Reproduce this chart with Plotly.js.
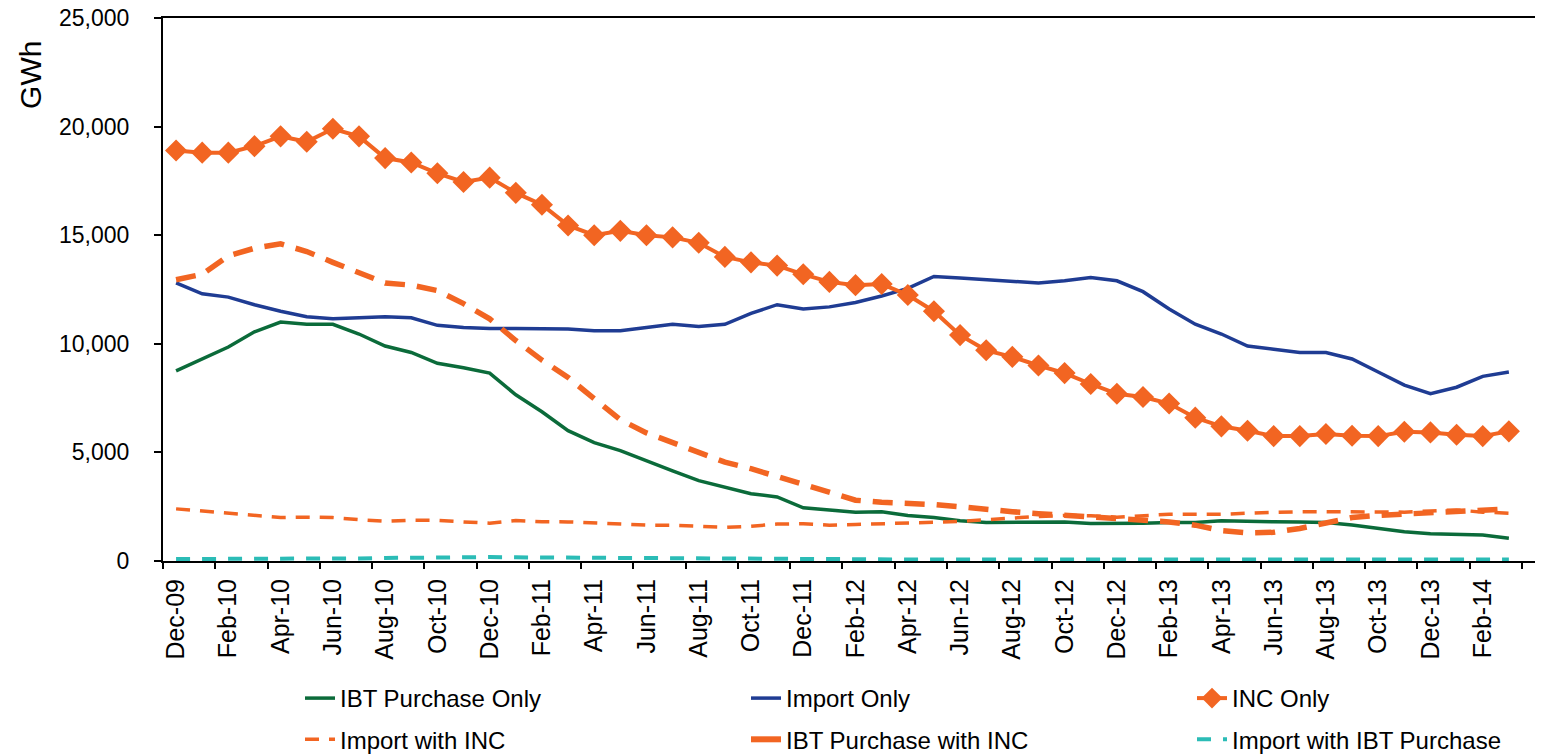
<!DOCTYPE html>
<html>
<head>
<meta charset="utf-8">
<script src="https://cdn.plot.ly/plotly-3.0.1.min.js"></script>
<style>html,body{margin:0;padding:0;background:#fff;}#chart{width:1550px;height:756px;}</style>
</head>
<body>
<div id="chart"></div>
<script>
const months = ["Dec-09","Jan-10","Feb-10","Mar-10","Apr-10","May-10","Jun-10","Jul-10","Aug-10","Sep-10","Oct-10","Nov-10",
"Dec-10","Jan-11","Feb-11","Mar-11","Apr-11","May-11","Jun-11","Jul-11","Aug-11","Sep-11","Oct-11","Nov-11",
"Dec-11","Jan-12","Feb-12","Mar-12","Apr-12","May-12","Jun-12","Jul-12","Aug-12","Sep-12","Oct-12","Nov-12",
"Dec-12","Jan-13","Feb-13","Mar-13","Apr-13","May-13","Jun-13","Jul-13","Aug-13","Sep-13","Oct-13","Nov-13",
"Dec-13","Jan-14","Feb-14","Mar-14"];

const tickLabels = ["Dec-09","Feb-10","Apr-10","Jun-10","Aug-10","Oct-10","Dec-10","Feb-11","Apr-11","Jun-11","Aug-11","Oct-11",
"Dec-11","Feb-12","Apr-12","Jun-12","Aug-12","Oct-12","Dec-12","Feb-13","Apr-13","Jun-13","Aug-13","Oct-13","Dec-13","Feb-14"];

const tickBoundaries = [-0.5,1.5,3.5,5.5,7.5,9.5,11.5,13.5,15.5,17.5,19.5,21.5,23.5,25.5,27.5,29.5,31.5,33.5,35.5,37.5,39.5,41.5,43.5,45.5,47.5,49.5,51.5];

const ibtPurchaseOnly = [8750,9300,9850,10550,11000,10900,10900,10450,9900,9600,9100,8900,
8650,7650,6870,6000,5450,5080,4600,4150,3700,3400,3100,2950,
2450,2350,2250,2270,2100,2000,1850,1770,1770,1790,1800,1730,
1720,1740,1770,1770,1850,1810,1810,1800,1770,1660,1510,1350,
1260,1230,1200,1050];

const importOnly = [12800,12300,12150,11800,11500,11250,11150,11200,11250,11200,10850,10750,
10700,10700,10700,10680,10600,10600,10750,10900,10800,10900,11400,11800,
11600,11700,11900,12200,12550,13100,13030,12950,12850,12800,12900,13050,
12900,12400,11600,10900,10450,9900,9750,9600,9600,9300,8700,8100,
7700,8000,8500,8700];

const incOnly = [18900,18800,18800,19100,19550,19300,19900,19550,18550,18350,17850,17450,
17650,16950,16400,15450,15000,15200,15000,14900,14650,14000,13750,13600,
13200,12850,12700,12750,12250,11500,10400,9700,9400,9000,8650,8150,
7700,7550,7250,6600,6200,6000,5750,5750,5850,5770,5750,5950,
5920,5810,5750,5970];

const importWithInc = [2400,2300,2200,2080,2000,2020,2000,1900,1830,1880,1870,1800,
1740,1860,1810,1800,1750,1690,1650,1650,1600,1550,1600,1700,
1720,1650,1680,1720,1740,1770,1820,1900,1980,2050,2100,2080,
2020,2080,2150,2150,2150,2200,2250,2270,2270,2250,2230,2250,
2300,2350,2250,2200];

const ibtPurchaseWithInc = [12950,13200,14050,14400,14600,14250,13750,13250,12800,12700,12450,11850,
11150,10150,9250,8450,7450,6500,5900,5450,5050,4550,4250,3900,
3550,3150,2800,2700,2680,2600,2500,2370,2270,2180,2110,2050,
1950,1850,1800,1650,1400,1300,1320,1500,1750,2000,2100,2150,
2250,2300,2350,2400];

const importWithIbtPurchase = [90,90,90,90,90,95,110,120,140,160,180,180,
180,170,160,150,150,140,130,120,110,100,90,80,
70,70,70,70,70,70,70,70,70,70,70,70,
70,70,70,70,70,70,70,70,70,70,70,70,
70,70,70,70];

const yTicks = [0,5000,10000,15000,20000,25000];

const FONT = "Liberation Sans, Arial, sans-serif";
const ORANGE = "#f26522";

const traces = [
  {x: months, y: ibtPurchaseOnly, name: "IBT Purchase Only", type: "scatter", mode: "lines",
   line: {color: "#0b6b3a", width: 3.5}, legend: "legend", legendgroup: "a"},
  {x: months, y: importOnly, name: "Import Only", type: "scatter", mode: "lines",
   line: {color: "#1f3c93", width: 3.5}, legend: "legend2", legendgroup: "b"},
  {x: months, y: incOnly, name: "INC Only", type: "scatter", mode: "lines+markers",
   line: {color: ORANGE, width: 4}, marker: {symbol: "diamond", size: 17, color: ORANGE}, legend: "legend3", legendgroup: "c"},
  {x: months, y: importWithInc, name: "Import with INC", type: "scatter", mode: "lines",
   line: {color: ORANGE, width: 3.5, dash: "14px,10px"}, legend: "legend", legendgroup: "d"},
  {x: months, y: ibtPurchaseWithInc, name: "IBT Purchase with INC", type: "scatter", mode: "lines",
   line: {color: ORANGE, width: 5.5, dash: "20px,12px"}, showlegend: false, legend: "legend2", legendgroup: "e"},
  {x: [null], y: [null], name: "IBT Purchase with INC", type: "scatter", mode: "lines",
   line: {color: ORANGE, width: 6}, legend: "legend2", legendgroup: "e2"},
  {x: months, y: importWithIbtPurchase, name: "Import with IBT Purchase", type: "scatter", mode: "lines",
   line: {color: "#2bbcb6", width: 4, dash: "14px,12px"}, legend: "legend3", legendgroup: "f"},
  {x: tickBoundaries, y: tickBoundaries.map(() => null), xaxis: "x2", yaxis: "y", showlegend: false,
   type: "scatter", mode: "lines", hoverinfo: "skip"}
];

function legendAt(xpx) {
  return {
    orientation: "v", xref: "container", yref: "container",
    xanchor: "left", yanchor: "top", x: xpx / 1550, y: 1 - 676 / 756,
    font: {family: FONT, size: 24, color: "#000"}, bgcolor: "rgba(0,0,0,0)",
    traceorder: "grouped", tracegroupgap: 7
  };
}

const layout = {
  width: 1550, height: 756,
  margin: {l: 163, r: 15, t: 18, b: 195, autoexpand: false},
  paper_bgcolor: "#fff", plot_bgcolor: "#fff",
  font: {family: FONT, size: 22, color: "#000"},
  showlegend: true,
  xaxis: {
    type: "category", range: [-0.5, 52.0],
    tickmode: "array", tickvals: tickLabels, ticktext: tickLabels,
    tickangle: -90, ticks: "", showgrid: false, zeroline: false,
    showline: true, linecolor: "#000", linewidth: 2, mirror: true,
    tickfont: {family: FONT, size: 25, color: "#000"}, ticklabelstandoff: 6
  },
  xaxis2: {
    type: "linear", overlaying: "x", anchor: "y", side: "bottom", range: [-0.5, 52.0],
    tickmode: "array", tickvals: tickBoundaries, ticks: "outside", ticklen: 7, tickwidth: 2, tickcolor: "#000",
    showticklabels: false, showgrid: false, zeroline: false, showline: false
  },
  yaxis: {
    range: [0, 25000], tickmode: "array", tickvals: yTicks, tickformat: ",d",
    ticks: "outside", ticklen: 7, tickwidth: 2, tickcolor: "#000",
    showgrid: false, zeroline: false, showline: true, linecolor: "#000", linewidth: 2,
    tickfont: {family: FONT, size: 23, color: "#000"}, ticklabelstandoff: 20
  },
  legend: legendAt(300),
  legend2: legendAt(746),
  legend3: legendAt(1192),
  annotations: [{
    text: "GWh", xref: "paper", yref: "paper", x: -0.097, y: 0.895,
    xanchor: "center", yanchor: "middle", textangle: -90, showarrow: false,
    font: {family: FONT, size: 30, color: "#000"}
  }]
};

Plotly.newPlot("chart", traces, layout, {displayModeBar: false, staticPlot: true});
</script>
</body>
</html>
